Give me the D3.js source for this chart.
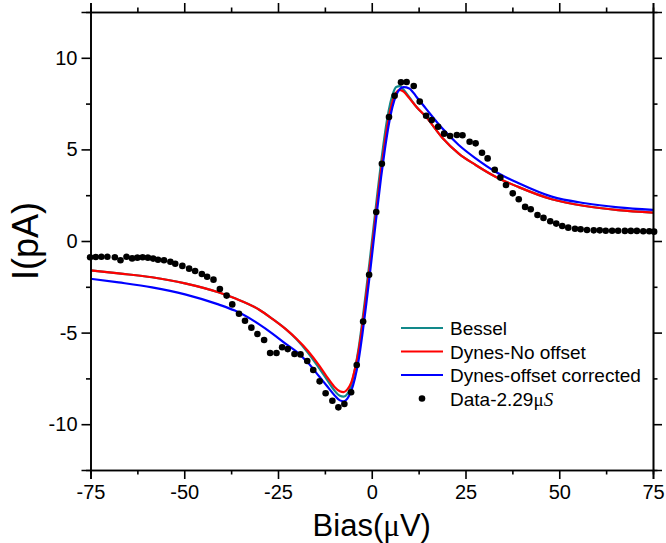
<!DOCTYPE html>
<html><head><meta charset="utf-8">
<script src="https://cdn.jsdelivr.net/npm/d3@7"></script>
<style>
html,body{margin:0;padding:0;background:#fff;}
svg{display:block;}
text{font-family:Arial,"Liberation Sans",sans-serif;fill:#000;}
</style></head>
<body><svg id="c" width="666" height="543"></svg>
<script>
// ---- data ----
const xTicks = [-75, -50, -25, 0, 25, 50, 75];
const xMinorTicks = [-62.5, -37.5, -12.5, 12.5, 37.5, 62.5];
const yTicks = [-10, -5, 0, 5, 10];
const yMinorTicks = [-7.5, -2.5, 2.5, 7.5];

const seriesNames = ["Bessel", "Dynes-No offset", "Dynes-offset corrected"];
const dataName = "Data-2.29";

const dataBias = [
 -75.1,-73.6,-72.1,-70.5,-68.5,-67.0,-65.4,-63.9,-62.5,-61.1,-59.7,-58.3,-57.0,-55.4,-53.7,-52.4,-50.5,-48.7,-47.1,-45.3,-43.9,-42.2,-40.5,
 -38.7,-37.2,-35.4,-33.8,-32.1,-30.5,-28.7,-27.1,-25.4,-23.9,-22.4,-20.6,-19.0,-17.2,-15.6,-13.9,-12.3,-10.5,-8.9,-7.3,-5.5,
 -4.0,-2.3,-0.7,1.2,2.7,4.6,6.1,7.8,9.3,11.2,
 12.8,14.5,16.0,17.7,19.3,20.9,22.7,24.2,26.1,27.7,29.4,30.9,32.8,34.3,35.8,37.6,39.2,40.9,
 42.4,44.2,45.8,47.6,49.2,50.8,52.4,54.2,55.7,57.4,59.2,60.8,62.4,64.1,65.7,67.5,69.1,70.7,72.4,74.0,75.3
];
const dataCurrent = [
 -0.89,-0.87,-0.86,-0.86,-0.89,-1.05,-0.86,-0.95,-0.91,-0.89,-0.91,-0.96,-1.02,-1.05,-1.13,-1.24,-1.36,-1.51,-1.64,-1.80,-1.95,-2.11,-2.62,
 -2.98,-3.46,-3.97,-4.35,-4.73,-5.08,-5.40,-6.11,-6.11,-5.80,-5.90,-6.17,-6.19,-6.55,-7.04,-7.66,-8.31,-8.72,-9.08,-8.90,-8.26,
 -6.77,-4.40,-1.84,1.58,4.22,6.77,7.93,8.66,8.68,8.46,
 7.61,6.84,6.60,6.24,5.86,5.73,5.79,5.77,5.42,5.33,4.82,4.51,3.89,3.46,3.06,2.60,2.28,1.86,
 1.73,1.42,1.26,1.08,0.95,0.82,0.73,0.67,0.64,0.60,0.58,0.58,0.56,0.56,0.56,0.55,0.55,0.55,0.53,0.53,0.51
];

const fitBias = [-75,-67.5,-58.6,-49.8,-40.9,-36.5,-30,-26.5,-23,-20,-17,-14,-12,-10,-8.5,-7.5,-6.5,-5.5,-4.5,-3.5,-2.5,-1.5,-0.5,0.5,1.5,2.5,3.5,4.5,5.5,6.5,7.5,8.5,10,12,14.4,18.8,23.2,27.7,33,39.2,48,56.9,65.7,75];
const besselCurrent = [-1.60,-1.77,-1.98,-2.31,-2.80,-3.13,-3.75,-4.25,-4.8,-5.38,-6.1,-6.95,-7.55,-8.15,-8.45,-8.5,-8.35,-7.9,-7.0,-5.85,-4.35,-2.7,-1.0,0.8,2.6,4.3,5.85,7.1,7.95,8.4,8.45,8.25,7.85,7.3,6.79,5.64,4.77,4.15,3.51,2.94,2.28,1.91,1.69,1.55];
const dynesNoOffsetCurrent = [-1.60,-1.77,-1.98,-2.31,-2.80,-3.13,-3.75,-4.25,-4.8,-5.35,-6.0,-6.8,-7.4,-7.95,-8.2,-8.25,-8.1,-7.75,-7.0,-6.0,-4.6,-3.0,-1.35,0.4,2.2,3.9,5.4,6.7,7.6,8.1,8.25,8.15,7.8,7.3,6.79,5.64,4.77,4.15,3.51,2.94,2.28,1.91,1.69,1.55];
const dynesCorrectedCurrent = [-2.06,-2.26,-2.53,-2.91,-3.46,-3.8,-4.55,-5.05,-5.6,-6.05,-6.65,-7.4,-7.9,-8.4,-8.7,-8.75,-8.6,-8.2,-7.5,-6.5,-5.1,-3.5,-1.8,0.0,1.8,3.5,5.0,6.3,7.3,7.95,8.3,8.4,8.33,7.85,7.24,6.15,5.24,4.51,3.78,3.15,2.42,2.06,1.84,1.70];

const colors = ["#12898a", "#ff0000", "#0000ff"];

// ---- layout ----
const L = 90.5, R = 653, T = 12, B = 470;
const svg = d3.select("#c");
const x = d3.scaleLinear().domain([-75, 75]).range([L, R]);
const y = d3.scaleLinear().domain([-12.5, 12.5]).range([B, T]);

svg.append("defs").append("clipPath").attr("id", "clip")
  .append("rect").attr("x", L).attr("y", T).attr("width", R - L).attr("height", B - T);

const plot = svg.append("g").attr("clip-path", "url(#clip)");
const line = d3.line().x(d => x(d[0])).y(d => y(d[1])).curve(d3.curveMonotoneX);
const fits = [besselCurrent, dynesNoOffsetCurrent, dynesCorrectedCurrent];
fits.forEach((vals, i) => {
  plot.append("path")
    .datum(fitBias.map((b, k) => [b, vals[k]]))
    .attr("d", line).attr("fill", "none")
    .attr("stroke", colors[i]).attr("stroke-width", 2.2);
});

svg.append("g").selectAll("circle")
  .data(dataBias.map((b, k) => [b, dataCurrent[k]]))
  .join("circle")
  .attr("cx", d => x(d[0])).attr("cy", d => y(d[1])).attr("r", 3.3).attr("fill", "#000");

// axes
const fmt = d => String(d);
function styleAxis(g) {
  g.selectAll(".domain").attr("stroke", "#000").attr("stroke-width", 1.6);
  g.selectAll(".tick line").attr("stroke", "#000").attr("stroke-width", 1.6);
  g.selectAll("text").attr("font-size", 20).attr("font-family", "Arial, 'Liberation Sans', sans-serif");
}
const gx = svg.append("g").attr("transform", `translate(0,${B})`)
  .call(d3.axisBottom(x).tickValues(xTicks).tickSize(9).tickPadding(6).tickFormat(fmt));
styleAxis(gx);
const gxm = svg.append("g").attr("transform", `translate(0,${B})`)
  .call(d3.axisBottom(x).tickValues(xMinorTicks).tickSize(4.5).tickFormat(""));
styleAxis(gxm);
const gy = svg.append("g").attr("transform", `translate(${L},0)`)
  .call(d3.axisLeft(y).tickValues(yTicks).tickSize(9).tickPadding(4).tickFormat(fmt));
styleAxis(gy);
const gym = svg.append("g").attr("transform", `translate(${L},0)`)
  .call(d3.axisLeft(y).tickValues(yMinorTicks).tickSize(4.5).tickFormat(""));
styleAxis(gym);
const gt = svg.append("g").attr("transform", `translate(0,${T})`)
  .call(d3.axisTop(x).tickValues(xTicks).tickSize(9).tickFormat(""));
styleAxis(gt);
const gtm = svg.append("g").attr("transform", `translate(0,${T})`)
  .call(d3.axisTop(x).tickValues(xMinorTicks).tickSize(4.5).tickFormat(""));
styleAxis(gtm);
const gr = svg.append("g").attr("transform", `translate(${R},0)`)
  .call(d3.axisRight(y).tickValues(yTicks).tickSize(9).tickFormat(""));
styleAxis(gr);
const grm = svg.append("g").attr("transform", `translate(${R},0)`)
  .call(d3.axisRight(y).tickValues(yMinorTicks).tickSize(4.5).tickFormat(""));
styleAxis(grm);

// axis titles
const xt = svg.append("text").attr("x", (L + R) / 2).attr("y", 536)
  .attr("text-anchor", "middle").attr("font-size", 31);
xt.append("tspan").text("Bias(");
xt.append("tspan").attr("font-family", "'Liberation Serif', serif").text("μ");
xt.append("tspan").text("V)");

svg.append("text").attr("transform", `translate(38,${(T + B) / 2}) rotate(-90)`)
  .attr("text-anchor", "middle").attr("font-size", 36).text("I(pA)");

// legend
const legY = [328, 351.5, 375, 398.5];
const lg = svg.append("g");
seriesNames.forEach((n, i) => {
  lg.append("line").attr("x1", 401).attr("x2", 443).attr("y1", legY[i]).attr("y2", legY[i])
    .attr("stroke", colors[i]).attr("stroke-width", 2.2);
  lg.append("text").attr("x", 450).attr("y", legY[i] + 7).attr("font-size", 19).text(n);
});
lg.append("circle").attr("cx", 422).attr("cy", legY[3]).attr("r", 3.3).attr("fill", "#000");
const dt = lg.append("text").attr("x", 450).attr("y", legY[3] + 7).attr("font-size", 19);
dt.append("tspan").text(dataName);
dt.append("tspan").attr("font-family", "'Liberation Serif', serif").text("μ");
dt.append("tspan").attr("font-family", "'Liberation Serif', serif").attr("font-style", "italic").text("S");
</script></body></html>
